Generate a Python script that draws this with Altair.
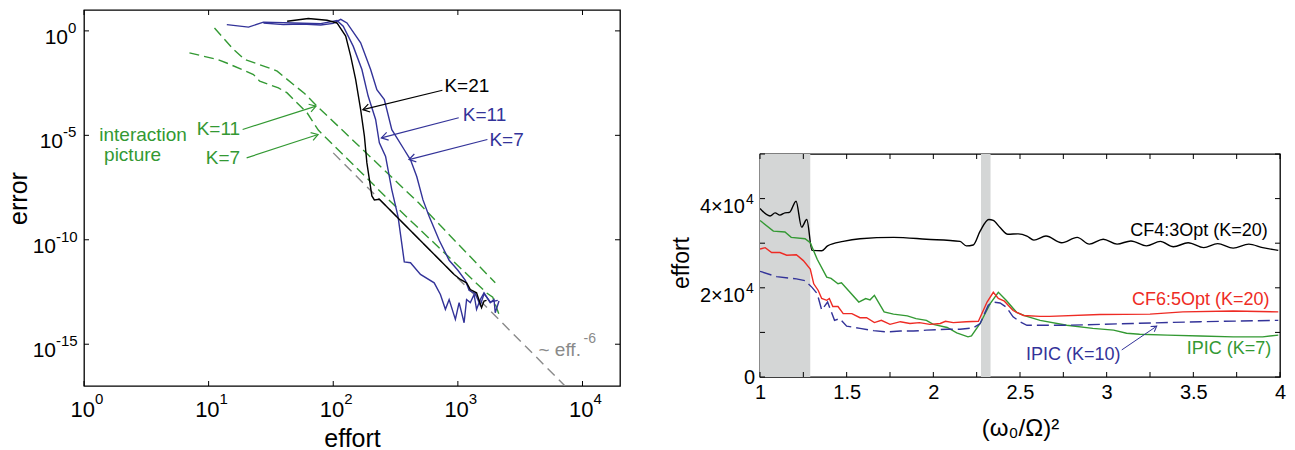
import math
import altair as alt
import pandas as pd

FONT = "Liberation Sans"
BLUE = "#333399"
GREEN = "#339933"
RED = "#ee2b24"
BLACK = "#000000"
GREY = "#8a8a8a"
SHADE = "#d4d6d6"

W1, H1 = 536, 376
W2, H2 = 520, 223

# ---------------- left panel: log10(effort), log10(error)
k21_lx = [1.63, 1.80, 1.95, 2.03, 2.10, 2.14, 2.18, 2.22, 2.25, 2.27, 2.31, 2.33, 2.37,
          2.97, 3.02, 3.07, 3.10, 3.15, 3.19, 3.21, 3.23]
k21_ly = [0.46, 0.59, 0.51, 0.38, -0.25, -1.21, -2.33, -3.77, -5.04, -6.32, -7.9, -8.09, -8.06,
          -11.66, -11.9, -12.06, -12.38, -12.54, -13.25, -12.93, -12.9]

b11_lx = [1.146, 1.32, 1.44, 1.68, 1.90, 2.03, 2.08, 2.16, 2.23, 2.28, 2.34, 2.37, 2.42, 2.47,
          2.52, 2.55, 2.57, 2.62, 2.70, 2.81, 2.86, 2.90, 2.93, 2.98, 3.01, 3.05, 3.07, 3.10,
          3.13, 3.15, 3.18, 3.21, 3.26, 3.29, 3.30, 3.33]
b11_ly = [0.30, 0.18, 0.42, 0.38, 0.35, 0.50, 0.22, -0.73, -1.85, -3.12, -4.24, -5.36, -6.01,
          -7.61, -8.89, -10.18, -11.06, -11.1, -11.66, -12.06, -12.62, -13.33, -12.86, -13.81,
          -13.01, -13.97, -12.86, -13.01, -12.62, -13.33, -12.86, -12.54, -13.01, -12.86,
          -13.49, -12.93]

b7_lx = [1.44, 1.60, 1.75, 1.90, 2.00, 2.06, 2.11, 2.22, 2.30, 2.35, 2.41, 2.47, 2.57, 2.62,
         2.67, 2.72, 2.77, 2.85, 2.93, 3.00, 3.06, 3.09, 3.14, 3.18, 3.21, 3.26, 3.32]
b7_ly = [0.38, 0.30, 0.33, 0.28, 0.36, 0.55, 0.38, -0.57, -1.85, -2.81, -3.29, -4.73, -5.69,
         -6.17, -6.97, -8.09, -8.89, -10.02, -10.98, -11.46, -11.94, -12.42, -12.58, -13.14,
         -12.58, -12.98, -12.9]

g11_lx = [1.047, 1.20, 1.29, 1.52, 1.55, 1.77, 1.87, 2.685, 3.30]
g11_ly = [0.14, -0.89, -1.37, -1.85, -1.93, -3.0, -3.6, -8.23, -12.06]

g7_lx = [0.846, 1.07, 1.15, 1.36, 1.41, 1.56, 1.63, 1.79, 1.88, 2.47, 3.23, 3.28, 3.33]
g7_ly = [-1.05, -1.37, -1.55, -2.09, -2.41, -2.73, -2.97, -3.92, -4.75, -8.23, -12.54,
         -12.75, -13.57]

slope_lx = [2.0, 3.86]
slope_ly = [-5.84, -17.0]

lx_ticks = [1, 10, 100, 1000, 10000]
lx_exps = ["0", "1", "2", "3", "4"]
ly_ticks = [1, 1e-5, 1e-10, 1e-15]
ly_exps = ["0", "-5", "-10", "-15"]
ly_base_x = [-16, -21, -28, -28]

# annotations (log10 coords): text, x, y, color
lann_left = [("K=21", 2.892, -2.65, BLACK), ("K=11", 3.040, -4.05, BLUE),
             ("K=7", 3.253, -5.20, BLUE)]
lann_right = [("K=11", 1.253, -4.72, GREEN), ("K=7", 1.253, -6.08, GREEN)]
lann_center = [("interaction", 0.474, -4.98, GREEN), ("picture", 0.39, -5.93, GREEN)]
# arrows: x0, y0, x1 (head), y1, color
larrows = [(2.876, -2.84, 2.238, -3.77, BLACK), (3.007, -4.16, 2.386, -5.12, BLUE),
           (3.237, -5.20, 2.608, -6.16, BLUE), (1.273, -4.72, 1.862, -3.60, GREEN),
           (1.305, -6.08, 1.878, -4.96, GREEN)]
slope_text = ("~ eff.", 3.647, -15.26)
slope_sup = "-6"

# ---------------- right panel (effort in units of 1e4)
cf4_x = [1.0, 1.058, 1.087, 1.115, 1.144, 1.17, 1.208, 1.24, 1.27, 1.30, 1.356, 1.39, 1.48,
         1.577, 1.77, 1.96, 2.154, 2.19, 2.23, 2.27, 2.32, 2.346, 2.385, 2.43, 2.49, 2.54,
         2.58, 2.65, 2.74, 2.83, 2.90, 2.98, 3.06, 3.14, 3.23, 3.31, 3.385, 3.47, 3.56, 3.64,
         3.73, 3.82, 3.90, 3.99]
cf4_y = [3.78, 3.61, 3.68, 3.63, 3.68, 3.69, 3.94, 3.36, 3.53, 2.84, 2.83, 2.94, 3.04, 3.10,
         3.13, 3.09, 3.04, 2.94, 2.96, 3.27, 3.53, 3.51, 3.35, 3.20, 3.21, 3.16, 3.07, 3.16,
         3.01, 3.13, 2.98, 3.09, 2.98, 3.05, 2.94, 3.04, 2.92, 3.01, 2.90, 2.99, 2.89, 2.98,
         2.90, 2.84]

ipic7_x = [1.0, 1.077, 1.144, 1.18, 1.26, 1.29, 1.33, 1.385, 1.41, 1.45, 1.47, 1.57, 1.61,
           1.635, 1.66, 1.716, 1.77, 1.85, 1.90, 1.96, 2.0, 2.08, 2.135, 2.20, 2.22, 2.27,
           2.327, 2.375, 2.42, 2.48, 2.53, 2.616, 2.77, 2.92, 3.04, 3.115, 3.19, 3.35, 3.54,
           3.73, 3.90, 3.99]
ipic7_y = [3.51, 3.27, 3.25, 3.13, 3.10, 3.01, 2.64, 2.24, 2.21, 2.09, 2.11, 1.68, 1.76, 1.73,
           1.83, 1.46, 1.41, 1.37, 1.31, 1.27, 1.18, 1.11, 0.99, 0.90, 0.92, 1.20, 1.64, 1.90,
           1.72, 1.45, 1.37, 1.27, 1.16, 1.09, 1.05, 0.98, 0.96, 0.94, 0.92, 0.90, 0.90, 0.94]

cf6_x = [1.0, 1.03, 1.067, 1.115, 1.154, 1.21, 1.25, 1.29, 1.31, 1.336, 1.356, 1.385, 1.40,
         1.42, 1.45, 1.48, 1.53, 1.577, 1.615, 1.66, 1.70, 1.75, 1.81, 1.865, 1.92, 1.98,
         2.04, 2.07, 2.115, 2.19, 2.26, 2.31, 2.346, 2.375, 2.41, 2.46, 2.52, 2.616, 2.67,
         2.96, 3.25, 3.44, 3.73, 3.99]
cf6_y = [2.87, 2.90, 2.79, 2.79, 2.73, 2.74, 2.61, 2.42, 2.09, 1.94, 1.76, 1.72, 1.76, 1.58,
         1.58, 1.42, 1.42, 1.33, 1.33, 1.22, 1.27, 1.18, 1.24, 1.20, 1.22, 1.18, 1.20, 1.25,
         1.22, 1.24, 1.25, 1.68, 1.90, 1.76, 1.70, 1.49, 1.38, 1.36, 1.36, 1.40, 1.41, 1.46,
         1.48, 1.46]

ipic10_x = [1.0, 1.096, 1.21, 1.26, 1.30, 1.33, 1.356, 1.39, 1.43, 1.46, 1.50, 1.577, 1.654,
            1.73, 1.81, 1.885, 1.96, 2.08, 2.154, 2.23, 2.27, 2.317, 2.346, 2.385, 2.42, 2.46,
            2.50, 2.54, 2.77, 3.15, 3.54, 3.99]
ipic10_y = [2.37, 2.25, 2.20, 2.16, 2.01, 1.87, 1.50, 1.68, 1.27, 1.31, 1.14, 1.09, 1.04, 1.01,
            1.03, 1.03, 1.05, 1.07, 1.07, 1.10, 1.20, 1.61, 1.68, 1.66, 1.57, 1.35, 1.24, 1.16,
            1.16, 1.20, 1.24, 1.27]

shade_x0 = [1.0, 2.275]
shade_x1 = [1.29, 2.33]

rx_ticks = [1.0, 1.25, 1.5, 1.75, 2.0, 2.25, 2.5, 2.75, 3.0, 3.25, 3.5, 3.75, 4.0]
rx_labels = [1, 1.5, 2, 2.5, 3, 3.5, 4]
ry_ticks = [0, 1, 2, 3, 4, 5]
ry_label_vals = [2, 4]
ry_label_base = "×10"
ry_label_sup = "4"

rann_right = [("CF4:3Opt (K=20)", 3.93, 3.27, BLACK), ("CF6:5Opt (K=20)", 3.94, 1.73, RED),
              ("IPIC (K=7)", 3.95, 0.63, GREEN), ("IPIC (K=10)", 3.08, 0.49, BLUE)]
rarrows = [(3.087, 0.607, 3.289, 1.14, BLUE)]

E4 = 10000.0
ARROW = "M -1 -0.62 L 0 0 L -1 0.62"
LW = 1.4

# ================= LEFT PANEL =================
XMAXL = math.log10(20000)


def lpx(v):
    return v / XMAXL * W1


def lpy(v):
    return (1 - v) / 18.0 * H1


xs_l = alt.Scale(type="log", domain=[1, 20000])
ys_l = alt.Scale(type="log", domain=[1e-17, 10])
ax_lx = alt.Axis(title="effort", labels=False, ticks=False, domain=False, grid=False,
                 titleFont=FONT, titleFontSize=25, titleFontWeight="normal", titleColor="black",
                 titleBaseline="alphabetic", titleX=W1 / 2, titleY=60, titleAlign="center")
ax_ly = alt.Axis(title="error", labels=False, ticks=False, domain=False, grid=False,
                 titleFont=FONT, titleFontSize=25, titleFontWeight="normal", titleColor="black",
                 titleAngle=270, titleBaseline="alphabetic", titleX=-58, titleY=H1 / 2,
                 titleAlign="center")


def LX(f="x"):
    return alt.X(f"{f}:Q", scale=xs_l, axis=ax_lx)


def LY(f="y"):
    return alt.Y(f"{f}:Q", scale=ys_l, axis=ax_ly)


def ldf(lx, ly):
    return pd.DataFrame({"x": [10 ** v for v in lx], "y": [10 ** v for v in ly],
                         "o": list(range(len(lx)))})


def lline(lx, ly, color, dash=None):
    kw = dict(color=color, strokeWidth=LW, clip=True)
    if dash:
        kw["strokeDash"] = dash
    return alt.Chart(ldf(lx, ly)).mark_line(**kw).encode(x=LX(), y=LY(), order="o:Q")


L = []
L.append(lline(slope_lx, slope_ly, GREY, [10, 6]))
L.append(lline(g11_lx, g11_ly, GREEN, [10, 5]))
L.append(lline(g7_lx, g7_ly, GREEN, [10, 5]))
L.append(lline(b11_lx, b11_ly, BLUE))
L.append(lline(b7_lx, b7_ly, BLUE))
L.append(lline(k21_lx, k21_ly, BLACK))

# arrows
arr = pd.DataFrame({
    "x": [10 ** a[0] for a in larrows], "y": [10 ** a[1] for a in larrows],
    "x2": [10 ** a[2] for a in larrows], "y2": [10 ** a[3] for a in larrows],
    "c": [a[4] for a in larrows],
    "ang": [math.degrees(math.atan2(lpy(a[3]) - lpy(a[1]), lpx(a[2]) - lpx(a[0]))) % 360
            for a in larrows]})
L.append(alt.Chart(arr).mark_rule(strokeWidth=1.2).encode(
    x=LX(), y=LY(), x2="x2:Q", y2="y2:Q", color=alt.Color("c:N", scale=None)))
L.append(alt.Chart(arr).mark_point(shape=ARROW, filled=False, size=170, strokeWidth=1.2,
                                   opacity=1).encode(
    x=LX("x2"), y=LY("y2"), angle=alt.Angle("ang:Q", scale=None),
    color=alt.Color("c:N", scale=None)))


def ann_df(items):
    return pd.DataFrame({"t": [i[0] for i in items],
                         "x": [10 ** i[1] for i in items],
                         "y": [10 ** i[2] for i in items],
                         "c": [i[3] for i in items]})


for items, al in [(lann_left, "left"), (lann_right, "right"), (lann_center, "center")]:
    L.append(alt.Chart(ann_df(items)).mark_text(align=al, baseline="middle", font=FONT,
                                                fontSize=19).encode(
        x=LX(), y=LY(), text="t:N", color=alt.Color("c:N", scale=None)))

sd = pd.DataFrame({"x": [10 ** slope_text[1]], "y": [10 ** slope_text[2]],
                   "t": [slope_text[0]], "s": [slope_sup]})
L.append(alt.Chart(sd).mark_text(align="left", baseline="middle", font=FONT, fontSize=19,
                                 color=GREY).encode(x=LX(), y=LY(), text="t:N"))
L.append(alt.Chart(sd).mark_text(align="left", baseline="middle", font=FONT, fontSize=14,
                                 color=GREY, dx=45, dy=-11).encode(x=LX(), y=LY(), text="s:N"))

# inward ticks
ltx = pd.DataFrame({"x": lx_ticks, "e": lx_exps, "b": ["10"] * len(lx_ticks)})
lty = pd.DataFrame({"y": ly_ticks})
L.append(alt.Chart(ltx).mark_rule(strokeWidth=1, color="black").encode(
    x=LX(), y=alt.value(H1), y2=alt.value(H1 - 5)))
L.append(alt.Chart(ltx).mark_rule(strokeWidth=1, color="black").encode(
    x=LX(), y=alt.value(0), y2=alt.value(5)))
L.append(alt.Chart(lty).mark_rule(strokeWidth=1, color="black").encode(
    y=LY(), x=alt.value(0), x2=alt.value(5)))
L.append(alt.Chart(lty).mark_rule(strokeWidth=1, color="black").encode(
    y=LY(), x=alt.value(W1), x2=alt.value(W1 - 5)))

# tick labels
L.append(alt.Chart(ltx).mark_text(align="right", baseline="alphabetic", font=FONT,
                                  fontSize=22, dx=11, color="black").encode(
    x=LX(), y=alt.value(H1 + 31), text="b:N"))
L.append(alt.Chart(ltx).mark_text(align="left", baseline="alphabetic", font=FONT,
                                  fontSize=15, dx=11, color="black").encode(
    x=LX(), y=alt.value(H1 + 18), text="e:N"))
for t, e, bx in zip(ly_ticks, ly_exps, ly_base_x):
    d = pd.DataFrame({"y": [t], "b": ["10"], "e": [e]})
    L.append(alt.Chart(d).mark_text(align="right", baseline="alphabetic", font=FONT,
                                    fontSize=21, dy=13, color="black").encode(
        x=alt.value(bx), y=LY(), text="b:N"))
    L.append(alt.Chart(d).mark_text(align="left", baseline="alphabetic", font=FONT,
                                    fontSize=15, dy=2, color="black").encode(
        x=alt.value(bx), y=LY(), text="e:N"))

left = alt.layer(*L).properties(width=W1, height=H1)

# ================= RIGHT PANEL =================
xs_r = alt.Scale(domain=[1, 4], nice=False, zero=False)
ys_r = alt.Scale(domain=[0, 5 * E4], nice=False, zero=False)
ax_rx = alt.Axis(title="(ω₀/Ω)²", values=rx_labels, format="~g", labelFont=FONT,
                 labelFontSize=20, labelColor="black", labelBaseline="alphabetic",
                 labelPadding=21, tickSize=0, ticks=False, domain=False, grid=False,
                 labelFlush=False, labelOverlap=False, titleFont=FONT, titleFontSize=24,
                 titleFontWeight="normal", titleColor="black", titleBaseline="alphabetic",
                 titleX=W2 / 2, titleY=58, titleAlign="center")
ax_ry = alt.Axis(title="effort", labels=False, ticks=False, domain=False, grid=False,
                 titleFont=FONT, titleFontSize=23, titleFontWeight="normal", titleColor="black",
                 titleAngle=270, titleBaseline="alphabetic", titleX=-72, titleY=H2 / 2 - 3,
                 titleAlign="center")


def rpx(v):
    return (v - 1) / 3.0 * W2


def rpy(v):
    return (1 - v / 5.0) * H2


def RX(f="x"):
    return alt.X(f"{f}:Q", scale=xs_r, axis=ax_rx)


def RY(f="y"):
    return alt.Y(f"{f}:Q", scale=ys_r, axis=ax_ry)


def rline(xv, yv, color, dash=None, interp=None):
    kw = dict(color=color, strokeWidth=LW, clip=True)
    if dash:
        kw["strokeDash"] = dash
    if interp:
        kw["interpolate"] = interp
    d = pd.DataFrame({"x": xv, "y": [v * E4 for v in yv], "o": list(range(len(xv)))})
    return alt.Chart(d).mark_line(**kw).encode(x=RX(), y=RY(), order="o:Q")


R = []
shd = pd.DataFrame({"x": shade_x0, "x2": shade_x1, "y": [0, 0], "y2": [5 * E4, 5 * E4]})
R.append(alt.Chart(shd).mark_rect(color=SHADE, opacity=1).encode(
    x=RX(), x2="x2:Q", y=RY(), y2="y2:Q"))
R.append(rline(cf4_x, cf4_y, BLACK, interp="monotone"))
R.append(rline(ipic7_x, ipic7_y, GREEN))
R.append(rline(cf6_x, cf6_y, RED))
R.append(rline(ipic10_x, ipic10_y, BLUE, [12, 5]))

rarr = pd.DataFrame({
    "x": [a[0] for a in rarrows], "y": [a[1] * E4 for a in rarrows],
    "x2": [a[2] for a in rarrows], "y2": [a[3] * E4 for a in rarrows],
    "c": [a[4] for a in rarrows],
    "ang": [math.degrees(math.atan2(rpy(a[3]) - rpy(a[1]), rpx(a[2]) - rpx(a[0]))) % 360
            for a in rarrows]})
R.append(alt.Chart(rarr).mark_rule(strokeWidth=1).encode(
    x=RX(), y=RY(), x2="x2:Q", y2="y2:Q", color=alt.Color("c:N", scale=None)))
R.append(alt.Chart(rarr).mark_point(shape=ARROW, filled=False, size=110, strokeWidth=1,
                                    opacity=1).encode(
    x=RX("x2"), y=RY("y2"), angle=alt.Angle("ang:Q", scale=None),
    color=alt.Color("c:N", scale=None)))

rd = pd.DataFrame({"t": [i[0] for i in rann_right], "x": [i[1] for i in rann_right],
                   "y": [i[2] * E4 for i in rann_right], "c": [i[3] for i in rann_right]})
R.append(alt.Chart(rd).mark_text(align="right", baseline="middle", font=FONT,
                                 fontSize=18).encode(
    x=RX(), y=RY(), text="t:N", color=alt.Color("c:N", scale=None)))

rtx = pd.DataFrame({"x": rx_ticks})
rty = pd.DataFrame({"y": [v * E4 for v in ry_ticks]})
R.append(alt.Chart(rtx).mark_rule(strokeWidth=1, color="black").encode(
    x=RX(), y=alt.value(H2), y2=alt.value(H2 - 5)))
R.append(alt.Chart(rtx).mark_rule(strokeWidth=1, color="black").encode(
    x=RX(), y=alt.value(0), y2=alt.value(5)))
R.append(alt.Chart(rty).mark_rule(strokeWidth=1, color="black").encode(
    y=RY(), x=alt.value(0), x2=alt.value(5)))
R.append(alt.Chart(rty).mark_rule(strokeWidth=1, color="black").encode(
    y=RY(), x=alt.value(W2), x2=alt.value(W2 - 5)))

zd = pd.DataFrame({"y": [0.0], "t": ["0"]})
R.append(alt.Chart(zd).mark_text(align="right", baseline="alphabetic", font=FONT, fontSize=20,
                                 dy=7, color="black").encode(
    x=alt.value(-5), y=RY(), text="t:N"))
yl = pd.DataFrame({"y": [v * E4 for v in ry_label_vals],
                   "b": [f"{v}{ry_label_base}" for v in ry_label_vals],
                   "s": [ry_label_sup] * len(ry_label_vals)})
R.append(alt.Chart(yl).mark_text(align="right", baseline="alphabetic", font=FONT, fontSize=20,
                                 dy=14, color="black").encode(
    x=alt.value(-15), y=RY(), text="b:N"))
R.append(alt.Chart(yl).mark_text(align="left", baseline="alphabetic", font=FONT, fontSize=14,
                                 dy=5, color="black").encode(
    x=alt.value(-14), y=RY(), text="s:N"))

right = alt.layer(*R).properties(width=W2, height=H2)

spacer = alt.Chart(pd.DataFrame({"a": [0]})).mark_point(opacity=0).encode(
    x=alt.value(0), y=alt.value(0)).properties(
    width=W2, height=144, view=alt.ViewBackground(strokeOpacity=0))

chart = alt.hconcat(
    left,
    alt.vconcat(spacer, right, spacing=0, bounds="flush"),
    spacing=140, bounds="flush",
).properties(padding={"left": 5, "top": 7, "right": 5, "bottom": 0}).configure(
    font=FONT).configure_view(stroke="black", strokeWidth=1.3)

chart.save("out.html", embed_options={"renderer": "svg", "actions": False})
